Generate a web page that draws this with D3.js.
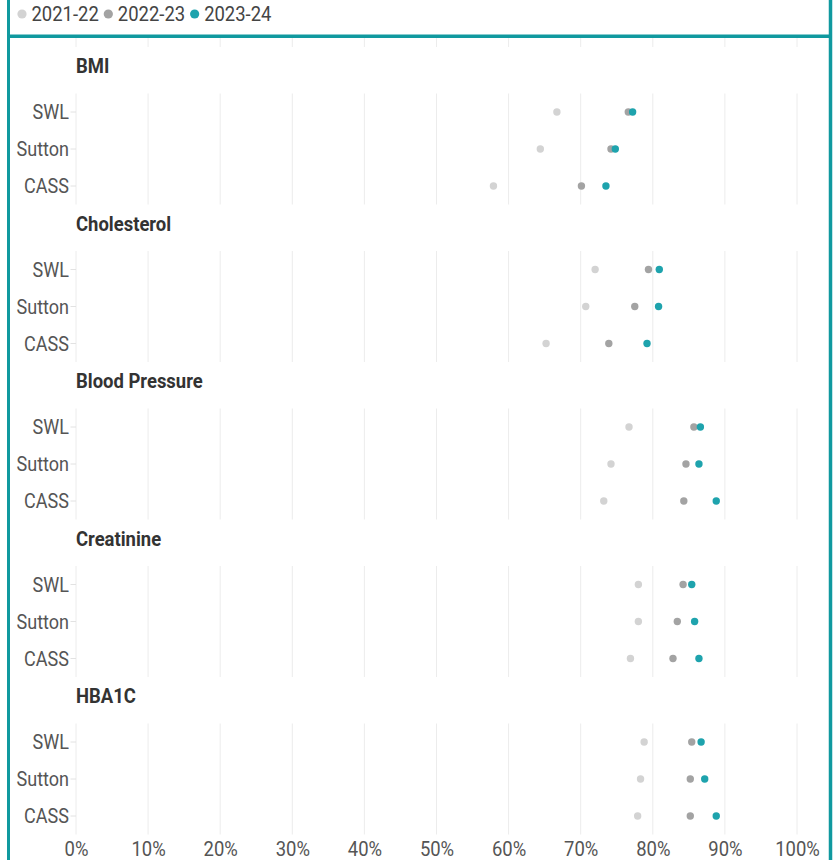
<!DOCTYPE html>
<html>
<head>
<meta charset="utf-8">
<script src="https://cdn.jsdelivr.net/npm/d3@7"></script>
<style>
  html, body { margin: 0; padding: 0; background: #fff; }
  svg { display: block; font-family: Roboto, "Noto Sans", sans-serif; }
</style>
</head>
<body>
<svg id="chart" width="840" height="860"></svg>
<script>
// Measures shown as small multiples, one panel each
const measures = ["BMI", "Cholesterol", "Blood Pressure", "Creatinine", "HBA1C"];
const areas = ["SWL", "Sutton", "CASS"];
const years = ["2021-22", "2022-23", "2023-24"];
const yearColors = ["#d3d3d3", "#a3a3a3", "#1ea3ad"];
const xTicks = [0, 10, 20, 30, 40, 50, 60, 70, 80, 90, 100];

// Percentage achieved per area, one array per year; rows follow measures x areas
const values2021 = [
  [66.7, 64.4, 57.9],
  [72.0, 70.7, 65.2],
  [76.7, 74.2, 73.2],
  [78.0, 78.0, 76.9],
  [78.8, 78.3, 77.9]
];
const values2022 = [
  [76.6, 74.2, 70.1],
  [79.4, 77.5, 73.9],
  [85.7, 84.6, 84.3],
  [84.2, 83.4, 82.8],
  [85.4, 85.2, 85.2]
];
const values2023 = [
  [77.2, 74.8, 73.5],
  [80.9, 80.8, 79.2],
  [86.6, 86.4, 88.8],
  [85.4, 85.8, 86.4],
  [86.7, 87.2, 88.8]
];
const seriesValues = [values2021, values2022, values2023];

const svg = d3.select("#chart");
const W = 840, H = 860;
const teal = "#10999f";
const squeeze = 0.9;   // narrow the face to a condensed look
const fontSize = 20.5;

const x = d3.scaleLinear().domain([0, 100]).range([76, 797]);

// vertical layout of the panels
const firstHeader = 66, panelStep = 157.5;
const headerY = i => firstHeader + i * panelStep;
const bandFor = i => d3.scaleBand().domain(areas)
  .range([headerY(i) + 27.5, headerY(i) + 138.5]).padding(0);

function condensedText(sel, tx, ty) {
  return sel.attr("transform", `translate(${tx},${ty}) scale(${squeeze},1)`);
}

// clip the panel area below the legend strip
svg.append("defs").append("clipPath").attr("id", "body-clip")
  .append("rect").attr("x", 0).attr("y", 38).attr("width", W).attr("height", H - 38);

const body = svg.append("g").attr("clip-path", "url(#body-clip)");

// panel grids (one leading panel sits just above the visible area)
for (let i = -1; i < measures.length; i++) {
  const y = bandFor(i);
  const [y0, y1] = y.range();
  body.append("g").selectAll("line").data(xTicks).join("line")
    .attr("x1", d => x(d)).attr("x2", d => x(d))
    .attr("y1", y0).attr("y2", y1)
    .attr("stroke", "#ececec").attr("stroke-width", 1);
}

measures.forEach((m, i) => {
  const y = bandFor(i);
  const g = body.append("g");

  // panel header
  condensedText(g.append("text"), x(0), headerY(i) + 7)
    .text(m)
    .attr("font-size", fontSize).attr("font-weight", 700).attr("fill", "#333");

  // row axis
  const yAxis = d3.axisLeft(y).tickSize(5.5).tickPadding(1.5);
  const ax = g.append("g").attr("transform", `translate(${x(0)},0)`).call(yAxis);
  ax.select(".domain").remove();
  ax.selectAll(".tick line").attr("stroke", "#e2e2e2");
  ax.selectAll(".tick text").each(function () {
    const t = d3.select(this);
    const xx = +t.attr("x");
    t.attr("x", null).attr("dy", null)
      .attr("transform", `translate(${xx},7) scale(0.88,1)`)
      .attr("font-size", fontSize).attr("fill", "#555")
      .attr("font-family", "Roboto, sans-serif");
  });

  // dots, earliest year first so the latest sits on top
  years.forEach((yr, k) => {
    g.append("g").selectAll("circle")
      .data(areas.map((a, j) => ({ area: a, v: seriesValues[k][i][j] })))
      .join("circle")
      .attr("cx", d => x(d.v))
      .attr("cy", d => y(d.area) + y.bandwidth() / 2)
      .attr("r", 3.7)
      .attr("fill", yearColors[k]);
  });
});

// x axis labels
const xAxis = d3.axisBottom(x).tickValues(xTicks).tickSize(0).tickPadding(0)
  .tickFormat(d => d + "%");
const xa = svg.append("g").attr("transform", "translate(0,842)").call(xAxis);
xa.select(".domain").remove();
xa.selectAll(".tick text").attr("dy", null).attr("y", 13.5)
  .attr("font-size", fontSize).attr("fill", "#555")
  .attr("font-family", "Roboto, sans-serif")
  .attr("transform", `scale(${squeeze},1)`);

// legend
const legend = svg.append("g");
let lx = 22;
years.forEach((yr, k) => {
  legend.append("circle").attr("cx", lx).attr("cy", 14).attr("r", 4.6)
    .attr("fill", yearColors[k]);
  const t = condensedText(legend.append("text"), lx + 9.5, 21)
    .text(yr).attr("font-size", fontSize).attr("fill", "#444");
  const w = t.node().getComputedTextLength() * squeeze;
  lx += 9.5 + w + 9.5;
});

// frame
const frame = svg.append("g").attr("stroke", teal).attr("fill", "none");
frame.append("line").attr("x1", 8.5).attr("x2", 8.5).attr("y1", 0).attr("y2", H).attr("stroke-width", 3);
frame.append("line").attr("x1", 830.5).attr("x2", 830.5).attr("y1", 0).attr("y2", H).attr("stroke-width", 3.5);
frame.append("line").attr("x1", 7).attr("x2", 832).attr("y1", 36.3).attr("y2", 36.3).attr("stroke-width", 3.5);
</script>
</body>
</html>
